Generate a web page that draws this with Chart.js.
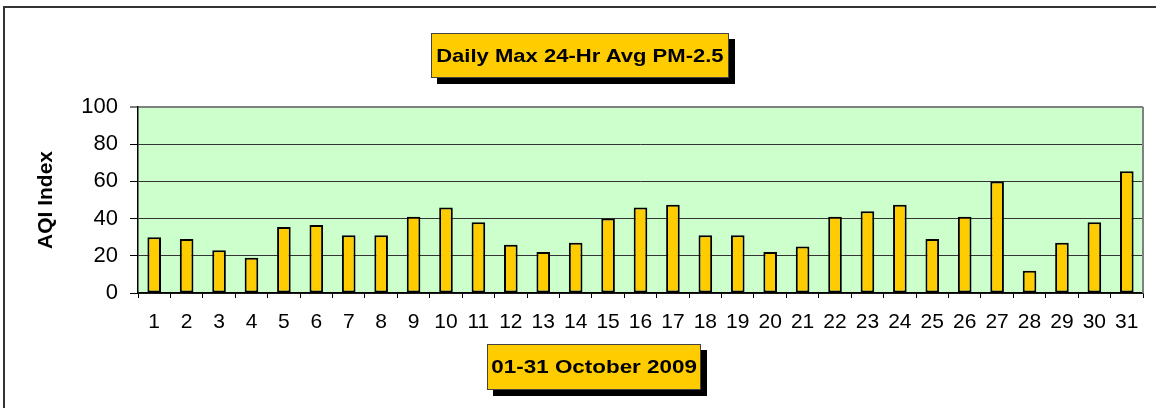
<!DOCTYPE html>
<html>
<head>
<meta charset="utf-8">
<script src="https://cdn.jsdelivr.net/npm/chart.js@4.4.1/dist/chart.umd.min.js"></script>
<style>
  html, body { margin: 0; padding: 0; background: #fff; }
  #wrap { position: relative; width: 1156px; height: 408px; overflow: hidden; }
  #frame { position: absolute; left: 3px; top: 6px; width: 1200px; height: 500px;
           border-left: 2px solid #333; border-top: 2px solid #333; }
  canvas { position: absolute; left: 0; top: 0; }
  .box { position: absolute; background: #FFCC00; border: 1px solid #444;
         box-shadow: 6px 6px 0 #000; font-family: "Liberation Sans", Arial, sans-serif;
         font-weight: bold; font-size: 19px; color: #000; text-align: center; box-sizing: border-box; }
  .box span { display: inline-block; transform: scaleX(1.16); transform-origin: center; }
  #title { left: 431px; top: 33px; width: 298px; height: 45px; line-height: 43px; }
  #xtitle { left: 487px; top: 344px; width: 214px; height: 46px; line-height: 44px; }
  #xtitle span { transform: scaleX(1.18); }
</style>
</head>
<body>
<div id="wrap">
  <div id="frame"></div>
  <canvas id="c" width="1156" height="408"></canvas>
  <div class="box" id="title"><span>Daily Max 24-Hr Avg PM-2.5</span></div>
  <div class="box" id="xtitle"><span>01-31 October 2009</span></div>
</div>
<script>
const days = ['1','2','3','4','5','6','7','8','9','10','11','12','13','14','15','16','17','18','19','20','21','22','23','24','25','26','27','28','29','30','31'];
const aqiValues = [30, 29, 23, 19, 35.5, 36.5, 31, 31, 41, 46, 38, 26, 22, 27, 40, 46, 47.5, 31, 31, 22, 25, 41, 44, 47.5, 29, 41, 60, 12, 27, 38, 65.5];
const yTicks = [0, 20, 40, 60, 80, 100];
const yTitle = 'AQI Index';

const plotBg = {
  id: 'plotBg',
  beforeDraw(chart) {
    const {ctx, chartArea: a} = chart;
    ctx.save();
    ctx.fillStyle = '#CCFFCC';
    ctx.fillRect(a.left, a.top, a.right - a.left, a.bottom - a.top);
    ctx.restore();
  },
  afterDraw(chart) {
    const {ctx, chartArea: a} = chart;
    ctx.save();
    ctx.strokeStyle = '#808080';
    ctx.lineWidth = 2;
    ctx.beginPath();
    ctx.moveTo(a.right, a.top);
    ctx.lineTo(a.right, a.bottom);
    ctx.stroke();
    ctx.restore();
  }
};

new Chart(document.getElementById('c'), {
  type: 'bar',
  data: {
    labels: days,
    datasets: [{
      data: aqiValues,
      backgroundColor: '#FFCC00',
      borderColor: '#000',
      borderWidth: 2,
      borderSkipped: false,
      barPercentage: 0.42,
      categoryPercentage: 1.0
    }]
  },
  options: {
    responsive: false,
    animation: false,
    devicePixelRatio: 1,
    layout: { padding: { left: 34, right: 13, top: 107, bottom: 0 } },
    plugins: { legend: { display: false }, tooltip: { enabled: false }, title: { display: false } },
    scales: {
      x: {
        afterFit(s) { s.height = 115; },
        grid: { offset: true, drawOnChartArea: false, drawTicks: true, tickLength: 5, tickColor: '#000', tickWidth: 1 },
        border: { color: '#000', width: 1.5 },
        ticks: { color: '#000', padding: 12, maxRotation: 0, autoSkip: false,
                 font: { family: '"Liberation Sans", Arial, sans-serif', size: 21 } }
      },
      y: {
        min: 0, max: 100,
        afterFit(s) { s.width = 104; },
        afterBuildTicks(s) { s.ticks = yTicks.map(v => ({ value: v })); },
        grid: {
          color: c => (c.tick && c.tick.value === 100) ? '#808080' : '#333',
          lineWidth: c => (c.tick && c.tick.value === 100) ? 2 : 1,
          tickColor: '#000', tickLength: 8, tickWidth: 1
        },
        border: { color: '#000', width: 1.5 },
        ticks: { color: '#000', padding: 12,
                 font: { family: '"Liberation Sans", Arial, sans-serif', size: 22 } },
        title: { display: true, text: yTitle, color: '#000', padding: { top: 0, bottom: 0 },
                 font: { family: '"Liberation Sans", Arial, sans-serif', size: 21, weight: 'bold' } }
      }
    }
  },
  plugins: [plotBg]
});
</script>
</body>
</html>
